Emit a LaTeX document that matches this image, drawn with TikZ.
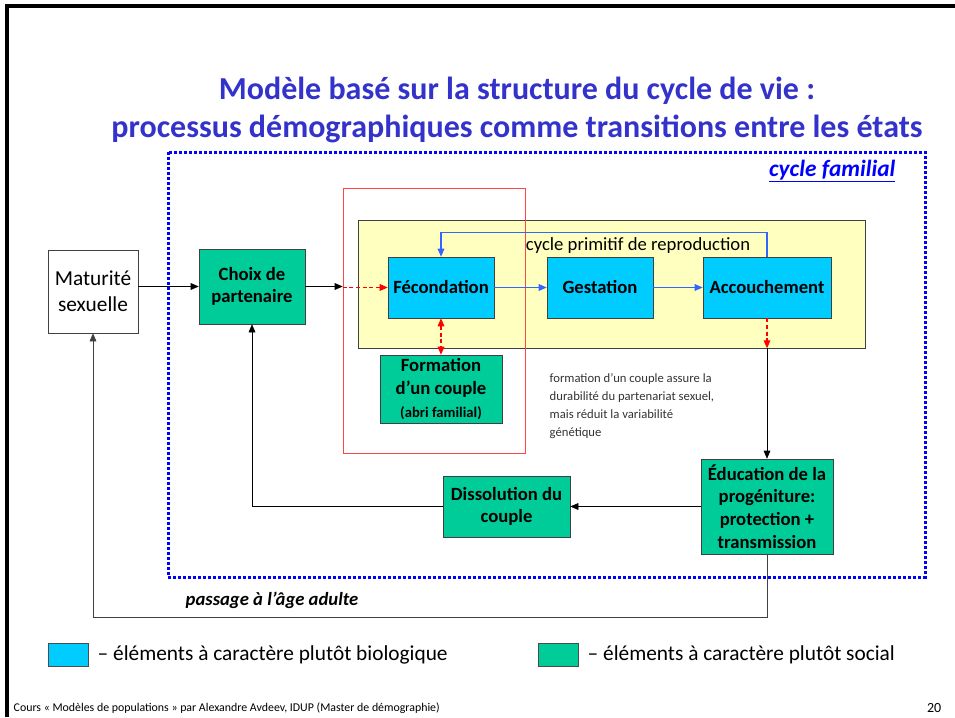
\documentclass[tikz,border=0pt]{standalone}
\usepackage{fontspec}
\setmainfont{Carlito}
\usetikzlibrary{arrows.meta}
\definecolor{titleblue}{RGB}{51,51,204}
\definecolor{biocyan}{RGB}{0,204,255}
\definecolor{socgreen}{RGB}{0,204,153}
\definecolor{cycyellow}{RGB}{255,255,192}
\definecolor{loopblue}{RGB}{51,102,255}
\definecolor{pairred}{RGB}{255,70,70}

\begin{document}
\begin{tikzpicture}[x=0.75pt,y=-0.75pt,
  box/.style={draw=black!75, inner sep=0pt, align=center, font=\fontsize{14}{17}\selectfont\bfseries},
  bio/.style={box, fill=biocyan, minimum height=45.75pt},
  soc/.style={box, fill=socgreen},
  arr/.style={-{Triangle[length=6pt,width=5pt]}},
  bluearr/.style={arr, loopblue, thick},
  reddash/.style={red, thick, dash pattern=on 3pt off 2pt},
  legbox/.style={draw=black!70, inner sep=0pt, minimum width=30pt, minimum height=17.25pt}]
\useasboundingbox (0,0) rectangle (955,717);
\draw[line width=3pt] (7,717) -- (7,6) -- (955,6);

\node[titleblue, font=\fontsize{24}{28}\selectfont\bfseries, align=center] (title) at (517,110)
  {Modèle basé sur la structure du cycle de vie :\\processus démographiques comme transitions entre les états};

\draw[blue, line width=2.25pt, dash pattern=on 2.25pt off 1.5pt] (168,152) rectangle (925,577);
\node[blue, anchor=east, font=\fontsize{17.5}{21}\selectfont\bfseries\itshape] (famille) at (900,171) {\underline{cycle familial}};

\node[draw=black!75, fill=cycyellow, inner sep=0pt, minimum width=380.25pt, minimum height=96pt] (cyc) at (611.5,284) {};
\node[draw=pairred, inner sep=0pt, minimum width=136.5pt, minimum height=198.75pt] (pair) at (434,320.5) {};
\node[font=\fontsize{14}{17}\selectfont] (cyclabel) at (638,246) {cycle primitif de reproduction};

\node[box, fill=white, font=\fontsize{16}{19.5}\selectfont, minimum width=67.5pt, minimum height=62.25pt] (matur) at (93,291.5) {Maturité\\sexuelle};
\node[soc, minimum width=79.5pt, minimum height=56.25pt] (choix) at (252,286.5) {Choix de\\partenaire};
\node[bio, minimum width=79.5pt] (fecond) at (441,287.5) {Fécondation};
\node[bio, minimum width=79.5pt] (gest) at (600,287.5) {Gestation};
\node[bio, minimum width=96pt] (accouch) at (767,287.5) {Accouchement};
\node[soc, minimum width=91.5pt, minimum height=51pt] (couple) at (441,389) {Formation\\d’un couple\\{\fontsize{11}{13}\selectfont(abri familial)}};
\node[soc, minimum width=99pt, minimum height=71.25pt] (educ) at (767,506.5) {Éducation de la\\progéniture:\\protection +\\transmission};
\node[soc, minimum width=95.25pt, minimum height=45.75pt] (dissol) at (506.5,506.5) {Dissolution du\\couple};

\node[anchor=north west, align=left, text=black!80, font=\fontsize{9.5}{13.5}\selectfont] (note) at (545,369)
  {formation d’un couple assure la\\durabilité du partenariat sexuel,\\mais réduit la variabilité\\génétique};

\draw[arr] (matur.east |- choix) -- (choix.west);
\draw[arr] (choix.east) -- (pair.west |- choix);
\draw[reddash, arr] (pair.west |- fecond) -- (fecond.west);
\draw[bluearr] (fecond.east) -- (gest.west);
\draw[bluearr] (gest.east) -- (accouch.west);
\draw[bluearr] (accouch.north) -- ++(0,-24) -| (fecond.north);
\draw[reddash, {Triangle[length=6pt,width=5pt]}-{Triangle[length=6pt,width=5pt]}] (fecond.south) -- (couple.north);
\draw[reddash, arr] (accouch.south) -- (accouch.south |- cyc.south);
\draw[arr] (accouch.south |- cyc.south) -- (educ.north);
\draw[arr] (educ.west |- dissol) -- (dissol.east);
\draw[arr] (dissol.west) -| (choix.south);
\draw[arr, black!75] (educ.south) -- ++(0,63) -| (matur.south);
\node[font=\fontsize{14}{17}\selectfont\bfseries\itshape] (passage) at (272,600) {passage à l’âge adulte};

\node[legbox, fill=biocyan] (legbio) at (68,654.5) {};
\node[anchor=west, font=\fontsize{16}{19}\selectfont] (legbiotext) at (93,654.5) {– éléments à caractère plutôt biologique};
\node[legbox, fill=socgreen] (legsoc) at (558,654.5) {};
\node[anchor=west, font=\fontsize{16}{19}\selectfont] (legsoctext) at (583,654.5) {– éléments à caractère plutôt social};

\node[anchor=west, font=\fontsize{8.9}{10}\selectfont] (footer) at (9,708) {Cours « Modèles de populations » par Alexandre Avdeev, IDUP (Master de démographie)};
\node[anchor=east, font=\fontsize{10.5}{12}\selectfont] (page) at (946,708) {20};
\end{tikzpicture}
\end{document}
